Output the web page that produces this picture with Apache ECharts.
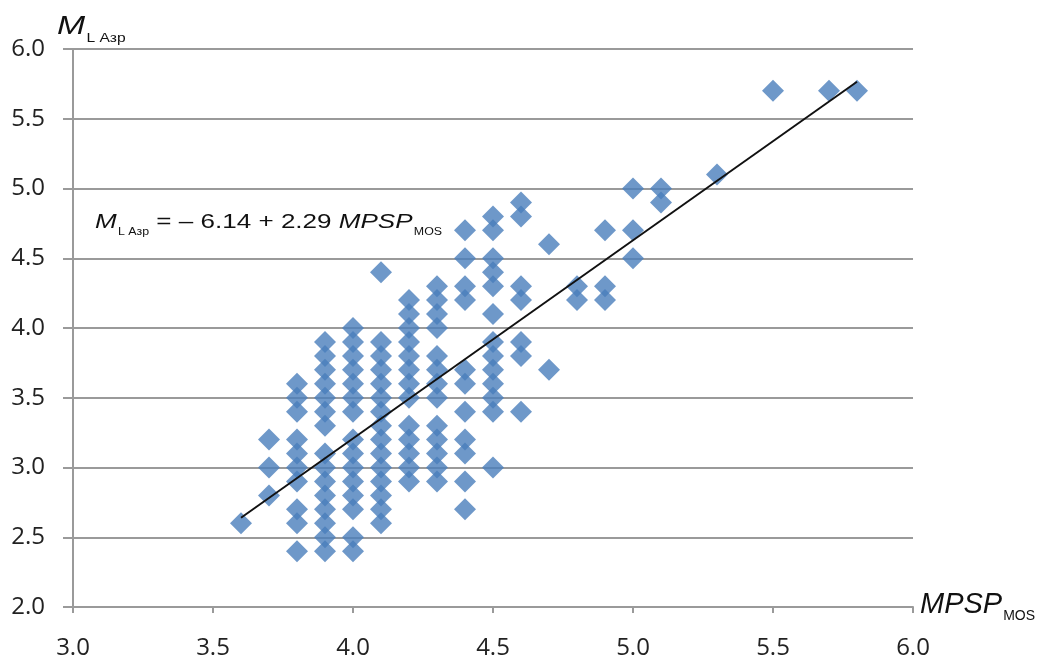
<!DOCTYPE html>
<html lang="ru">
<head>
    <meta charset="UTF-8">
    <title>M L Azr vs MPSP MOS</title>
    <script src="https://cdn.jsdelivr.net/npm/echarts@6/dist/echarts.min.js"></script>
    <style>
        html, body { margin: 0; padding: 0; background: #fff; }
        #charts { width: 1038px; height: 662px; }
    </style>
</head>
<body>
<div id="charts"></div>
<script>
    // MPSP values (one per column of points)
    var colX = [3.6, 3.7, 3.8, 3.9, 4.0, 4.1, 4.2, 4.3, 4.4, 4.5, 4.6, 4.7, 4.8, 4.9, 5.0, 5.1, 5.3, 5.5, 5.7, 5.8];
    // M values for each column
    var colY = [
        [2.6],
        [3.2, 3.0, 2.8],
        [3.6, 3.5, 3.4, 3.2, 3.1, 3.0, 2.9, 2.7, 2.6, 2.4],
        [3.9, 3.8, 3.7, 3.6, 3.5, 3.4, 3.3, 3.1, 3.0, 2.9, 2.8, 2.7, 2.6, 2.5, 2.4],
        [4.0, 3.9, 3.8, 3.7, 3.6, 3.5, 3.4, 3.2, 3.1, 3.0, 2.9, 2.8, 2.7, 2.5, 2.4],
        [4.4, 3.9, 3.8, 3.7, 3.6, 3.5, 3.4, 3.3, 3.2, 3.1, 3.0, 2.9, 2.8, 2.7, 2.6],
        [4.2, 4.1, 4.0, 3.9, 3.8, 3.7, 3.6, 3.5, 3.3, 3.2, 3.1, 3.0, 2.9],
        [4.3, 4.2, 4.1, 4.0, 3.8, 3.7, 3.6, 3.5, 3.3, 3.2, 3.1, 3.0, 2.9],
        [4.7, 4.5, 4.3, 4.2, 3.7, 3.6, 3.4, 3.2, 3.1, 2.9, 2.7],
        [4.8, 4.7, 4.5, 4.4, 4.3, 4.1, 3.9, 3.8, 3.7, 3.6, 3.5, 3.4, 3.0],
        [4.9, 4.8, 4.3, 4.2, 3.9, 3.8, 3.4],
        [4.6, 3.7],
        [4.3, 4.2],
        [4.7, 4.3, 4.2],
        [5.0, 4.7, 4.5],
        [5.0, 4.9],
        [5.1],
        [5.7],
        [5.7],
        [5.7]
    ];
    // fitted line as drawn on the figure
    var lineX = [3.6, 5.8];
    var lineY = [2.64, 5.765];

    var xTicks = [3.0, 3.5, 4.0, 4.5, 5.0, 5.5, 6.0];
    var yTicks = [2.0, 2.5, 3.0, 3.5, 4.0, 4.5, 5.0, 5.5, 6.0];

    var points = [];
    for (var i = 0; i < colX.length; i++) {
        for (var j = 0; j < colY[i].length; j++) {
            points.push([colX[i], colY[i][j]]);
        }
    }
    var fit = lineX.map(function (x, k) { return [x, lineY[k]]; });

    var gridColor = '#9a9a9a';
    var labelStyle = {
        color: '#222',
        fontFamily: 'Open Sans',
        fontSize: 24,
        formatter: function (v) { return v.toFixed(1); }
    };

    var option = {
        animation: false,
        grid: { left: 73, right: 125, top: 49, bottom: 55 },
        xAxis: {
            type: 'value',
            min: xTicks[0],
            max: xTicks[xTicks.length - 1],
            interval: 0.5,
            axisLine: { show: true, lineStyle: { color: gridColor, width: 2 } },
            axisTick: { show: true, inside: false, length: 6, lineStyle: { color: gridColor, width: 2 } },
            splitLine: { show: false },
            axisLabel: Object.assign({ margin: 29 }, labelStyle)
        },
        yAxis: {
            type: 'value',
            min: yTicks[0],
            max: yTicks[yTicks.length - 1],
            interval: 0.5,
            axisLine: { show: true, lineStyle: { color: gridColor, width: 2 } },
            axisTick: { show: true, inside: false, length: 10, lineStyle: { color: gridColor, width: 2 } },
            splitLine: { show: true, lineStyle: { color: gridColor, width: 2 } },
            axisLabel: Object.assign({ margin: 28 }, labelStyle)
        },
        graphic: [
            {
                // y axis title, stretched like the source figure
                type: 'text', left: 57, top: 14, scaleX: 1.3,
                style: {
                    text: '{m|M}{s|L Азр}',
                    rich: {
                        m: { fontFamily: 'Liberation Sans', fontStyle: 'italic', fontSize: 26, fill: '#111', verticalAlign: 'bottom' },
                        s: { fontFamily: 'Liberation Sans', fontSize: 12, fill: '#111', verticalAlign: 'bottom', padding: [0, 0, -5, 1] }
                    }
                }
            },
            {
                type: 'text', left: 95, top: 212, scaleX: 1.24,
                style: {
                    text: '{m|M}{s|L Азр}{t| = – 6.14 + 2.29 }{m|MPSP}{s|MOS}',
                    rich: {
                        m: { fontFamily: 'Liberation Sans', fontStyle: 'italic', fontSize: 21, fill: '#111', verticalAlign: 'bottom' },
                        t: { fontFamily: 'Liberation Sans', fontSize: 21, fill: '#111', verticalAlign: 'bottom' },
                        s: { fontFamily: 'Liberation Sans', fontSize: 10, fill: '#111', verticalAlign: 'bottom', padding: [0, 0, -4, 1] }
                    }
                }
            },
            {
                type: 'text', left: 920, top: 590,
                style: {
                    text: '{m|MPSP}{s|MOS}',
                    rich: {
                        m: { fontFamily: 'Liberation Sans', fontStyle: 'italic', fontSize: 29, fill: '#111', verticalAlign: 'bottom' },
                        s: { fontFamily: 'Liberation Sans', fontSize: 14, fill: '#111', verticalAlign: 'bottom', padding: [0, 0, -4, 1] }
                    }
                }
            }
        ],
        series: [
            {
                type: 'scatter',
                symbol: 'diamond',
                symbolSize: 22,
                data: points,
                itemStyle: { color: '#4A7EBB' },
                z: 2
            },
            {
                type: 'line',
                data: fit,
                symbol: 'none',
                lineStyle: { color: '#111', width: 2 },
                z: 3
            }
        ]
    };

    var myChart = echarts.init(document.getElementById('charts'));
    myChart.setOption(option);
</script>
</body>
</html>
